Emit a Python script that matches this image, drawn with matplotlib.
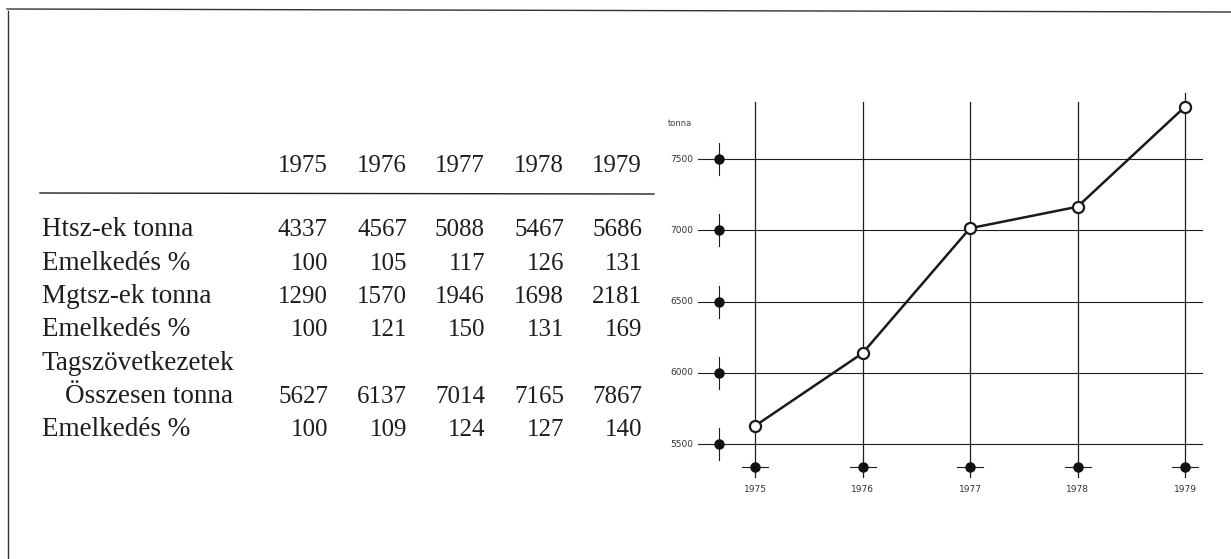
import matplotlib
matplotlib.use('Agg')
import matplotlib.pyplot as plt

# ── adatok ──
years = [1975, 1976, 1977, 1978, 1979]
htsz_tonna = [4337, 4567, 5088, 5467, 5686]
htsz_pct = [100, 105, 117, 126, 131]
mgtsz_tonna = [1290, 1570, 1946, 1698, 2181]
mgtsz_pct = [100, 121, 150, 131, 169]
ossz_tonna = [5627, 6137, 7014, 7165, 7867]
ossz_pct = [100, 109, 124, 127, 140]
y_ticks = [5500, 6000, 6500, 7000, 7500]

rows = [
    ('Htsz-ek tonna', htsz_tonna),
    ('Emelkedés %', htsz_pct),
    ('Mgtsz-ek tonna', mgtsz_tonna),
    ('Emelkedés %', mgtsz_pct),
    ('Tagszövetkezetek', None),
    ('   Összesen tonna', ossz_tonna),
    ('Emelkedés %', ossz_pct),
]

W, H = 1231, 559
INK = '#1e1e1e'
SERIF = 'Liberation Serif'

fig = plt.figure(figsize=(W / 100, H / 100), dpi=100, facecolor='white')

# háttér-tengely pixelkoordinátákban (keret + táblázat)
bg = fig.add_axes([0, 0, 1, 1])
bg.set_xlim(0, W)
bg.set_ylim(H, 0)
bg.axis('off')

bg.plot([7, W], [9, 12], color='#333333', lw=1.0)
bg.plot([8, 8], [11, H], color='#333333', lw=1.0)

col_right = [328, 407, 485, 564, 642]
for x, yr in zip(col_right, years):
    bg.text(x, 171.5, str(yr), ha='right', va='baseline',
            fontsize=18, family=SERIF, color=INK)
bg.plot([40, 654], [193, 194], color=INK, lw=1.0)

base, step = 236.5, 33.3
for i, (label, vals) in enumerate(rows):
    y = base + i * step
    lx = 42
    if label.startswith('   '):
        label = label.strip()
        lx = 65
    bg.text(lx, y, label, ha='left', va='baseline',
            fontsize=19.5, family=SERIF, color=INK)
    if vals is None:
        continue
    for x, v in zip(col_right, vals):
        bg.text(x, y, str(v), ha='right', va='baseline',
                fontsize=18, family=SERIF, color=INK)

# ── diagram ──
# pixel-geometria: 1975 -> x=755, 107.5 px/év ; 5500 -> y=444, 0.1425 px/tonna
X0, PX_YR = 755, 107.5
Y0, PX_T = 444, 0.1425
L, R, T, B = 660, 1215, 85, 505
ax = fig.add_axes([L / W, 1 - B / H, (R - L) / W, (B - T) / H])
ax.set_xlim(1975 + (L - X0) / PX_YR, 1975 + (R - X0) / PX_YR)
ax.set_ylim(5500 - (B - Y0) / PX_T, 5500 + (Y0 - T) / PX_T)
ax.axis('off')


def dx(px):
    return px / PX_YR


def dy(px):
    return px / PX_T


x_left_dot = years[0] - dx(36)
grid_x0, grid_x1 = years[0] - dx(57), years[-1] + dx(17)
for v in y_ticks:
    ax.plot([grid_x0, grid_x1], [v, v], color=INK, lw=0.8, zorder=1)
    ax.plot([x_left_dot, x_left_dot], [v - dy(16), v + dy(16)],
            color=INK, lw=0.8, zorder=2)
    ax.plot(x_left_dot, v, 'o', ms=6.5, color='#111111', zorder=3)
    ax.text(years[0] - dx(62), v, str(v), ha='right', va='center',
            fontsize=6.5, color='#333333', family='DejaVu Sans')

ax.text(years[0] - dx(87), 5500 + dy(320), 'tonna', ha='left', va='center',
        fontsize=6, color='#444444', family='DejaVu Sans')

y_bot_dot = 5500 - dy(23)
for i, yr in enumerate(years):
    top = 5500 + dy(342 if i < len(years) - 1 else 351)
    ax.plot([yr, yr], [5500 - dy(33), top], color=INK, lw=0.9, zorder=1)
    ax.plot([yr - dx(13), yr + dx(13)], [y_bot_dot, y_bot_dot],
            color=INK, lw=0.8, zorder=2)
    ax.plot(yr, y_bot_dot, 'o', ms=6.5, color='#111111', zorder=3)
    ax.text(yr, 5500 - dy(45), str(yr), ha='center', va='center',
            fontsize=6.5, color='#333333', family='DejaVu Sans')

ax.plot(years, ossz_tonna, color='#1a1a1a', lw=1.8, zorder=4,
        marker='o', ms=8, mfc='white', mec='#1a1a1a', mew=1.6)

fig.savefig('out.png', dpi=100, facecolor='white')
